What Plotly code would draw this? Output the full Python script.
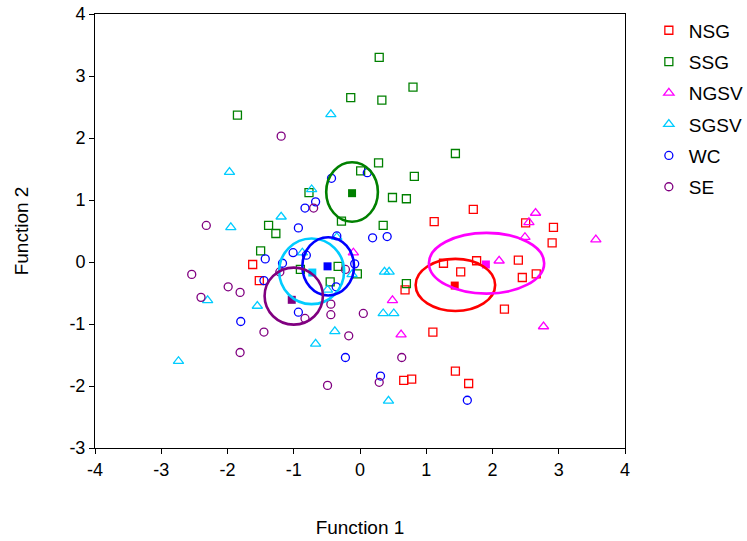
import plotly.graph_objects as go

groups = ["NSG", "SSG", "NGSV", "SGSV", "WC", "SE"]
colors = ["#FF0000", "#008000", "#FF00FF", "#00CCFF", "#0000FF", "#800080"]
symbols = ["square-open", "square-open", "triangle-up-open", "triangle-up-open", "circle-open", "circle-open"]

x_ticks = [-4, -3, -2, -1, 0, 1, 2, 3, 4]
x_tick_text = ["-4", "-3", "-2", "-1", "0", "1", "2", "3", "4"]
y_ticks = [-3, -2, -1, 0, 1, 2, 3, 4]
y_tick_text = ["-3", "-2", "-1", "0", "1", "2", "3", "4"]

nsg_x = [1.71, 1.12, 2.50, 2.92, 2.90, 1.26, 1.76, 1.52, 2.39, 2.45, 2.66, 0.68, 2.18, 1.10, 1.44, 1.64, 0.66, 0.78, -1.62, -1.52]
nsg_y = [0.85, 0.65, 0.63, 0.56, 0.31, -0.02, 0.02, -0.16, 0.03, -0.25, -0.19, -0.45, -0.76, -1.13, -1.76, -1.96, -1.91, -1.89, -0.04, -0.30]

ssg_x = [0.29, 0.80, 0.33, -0.14, 1.44, 0.28, 0.01, 0.82, 0.49, 0.70, 0.35, -1.85, -0.77, -0.28, -1.38, -1.27, -1.50, -0.90, -0.33, -0.45, -0.04, 0.70]
ssg_y = [3.30, 2.82, 2.61, 2.65, 1.75, 1.60, 1.47, 1.38, 1.04, 1.02, 0.59, 2.37, 1.12, 0.66, 0.59, 0.46, 0.18, -0.12, -0.07, -0.32, -0.19, -0.35]

ngsv_x = [2.65, 2.55, 2.49, 3.56, 2.10, 2.77, 0.49, 0.62, -0.10]
ngsv_y = [0.79, 0.64, 0.40, 0.36, 0.02, -1.04, -0.62, -1.17, 0.15]

sgsv_x = [-0.44, -1.97, -0.73, -1.19, -1.95, -2.30, -1.55, -2.74, -0.87, -0.38, -0.67, -0.49, -0.35, -0.12, 0.37, 0.44, 0.35, 0.51, 0.43]
sgsv_y = [2.38, 1.45, 1.17, 0.73, 0.56, -0.62, -0.71, -1.60, 0.15, -1.12, -1.32, -0.45, 0.40, -0.20, -0.16, -0.16, -0.83, -0.83, -2.24]

wc_x = [-0.43, -0.67, -0.83, -0.93, 0.11, 0.19, 0.41, -0.35, -1.01, -0.81, -1.43, -1.17, -1.45, -0.08, -0.36, -0.93, -1.80, -0.22, 0.31, 1.62]
wc_y = [1.35, 0.97, 0.87, 0.55, 1.44, 0.39, 0.41, 0.42, 0.15, 0.11, 0.05, -0.02, -0.30, -0.03, -0.40, -0.81, -0.96, -1.54, -1.84, -2.23]

se_x = [-1.19, -0.70, -2.32, -2.54, -1.99, -1.81, -2.40, -1.45, -1.81, -1.21, -0.83, -0.44, -0.44, -0.17, -0.49, -0.22, 0.05, 0.63, 0.29]
se_y = [2.03, 0.87, 0.59, -0.20, -0.40, -0.49, -0.57, -1.13, -1.46, -0.16, -0.91, -0.68, -0.85, -1.19, -1.99, -0.12, -0.83, -1.54, -1.94]

# group centroids (filled squares)
cent_x = [1.43, -0.12, 1.90, -0.72, -0.49, -1.03]
cent_y = [-0.38, 1.11, -0.04, -0.17, -0.07, -0.61]

# ellipse centres and semi-axes
ell_cx = [1.44, -0.12, 1.91, -0.73, -0.48, -1.00]
ell_cy = [-0.37, 1.13, -0.02, -0.15, -0.07, -0.55]
ell_ax = [0.60, 0.39, 0.87, 0.49, 0.39, 0.44]
ell_ay = [0.42, 0.48, 0.49, 0.53, 0.47, 0.46]

xs = [nsg_x, ssg_x, ngsv_x, sgsv_x, wc_x, se_x]
ys = [nsg_y, ssg_y, ngsv_y, sgsv_y, wc_y, se_y]

FONT = "Liberation Sans, Arial, sans-serif"

fig = go.Figure()
for g, c, s, x, y in zip(groups, colors, symbols, xs, ys):
    size = 9 if "triangle" in s else 8
    fig.add_trace(go.Scatter(
        x=x, y=y, mode="markers", name=g, legendgroup=g,
        marker=dict(symbol=s, size=size, color=c, line=dict(color=c, width=1.3)),
    ))

for i, c in enumerate(colors):
    fig.add_shape(type="circle", xref="x", yref="y",
                  x0=ell_cx[i] - ell_ax[i], x1=ell_cx[i] + ell_ax[i],
                  y0=ell_cy[i] - ell_ay[i], y1=ell_cy[i] + ell_ay[i],
                  line=dict(color=c, width=2.6), layer="above")

for i, c in enumerate(colors):
    fig.add_trace(go.Scatter(
        x=[cent_x[i]], y=[cent_y[i]], mode="markers", showlegend=False,
        marker=dict(symbol="square", size=8, color=c),
    ))

fig.update_layout(
    width=747, height=541,
    margin=dict(l=95, r=122, t=14, b=93, autoexpand=False),
    paper_bgcolor="white", plot_bgcolor="white",
    font=dict(family=FONT, size=18, color="black"),
    legend=dict(x=1.045, y=1.006, xanchor="left", yanchor="top",
                font=dict(family=FONT, size=19), tracegroupgap=3.6,
                bgcolor="rgba(0,0,0,0)"),
    xaxis=dict(range=[-4, 4], tickvals=x_ticks, ticktext=x_tick_text,
               ticks="outside", ticklen=5, tickcolor="black",
               showline=True, linecolor="black", linewidth=1, mirror=True,
               showgrid=False, zeroline=False,
               title=dict(text="Function 1", standoff=42, font=dict(size=19)),
               tickfont=dict(size=18)),
    yaxis=dict(range=[-3, 4], tickvals=y_ticks, ticktext=y_tick_text,
               ticks="outside", ticklen=5, tickcolor="black",
               showline=True, linecolor="black", linewidth=1, mirror=True,
               showgrid=False, zeroline=False,
               title=dict(text="Function 2", standoff=35, font=dict(size=19)),
               tickfont=dict(size=18)),
)

fig.write_html("out.html")
